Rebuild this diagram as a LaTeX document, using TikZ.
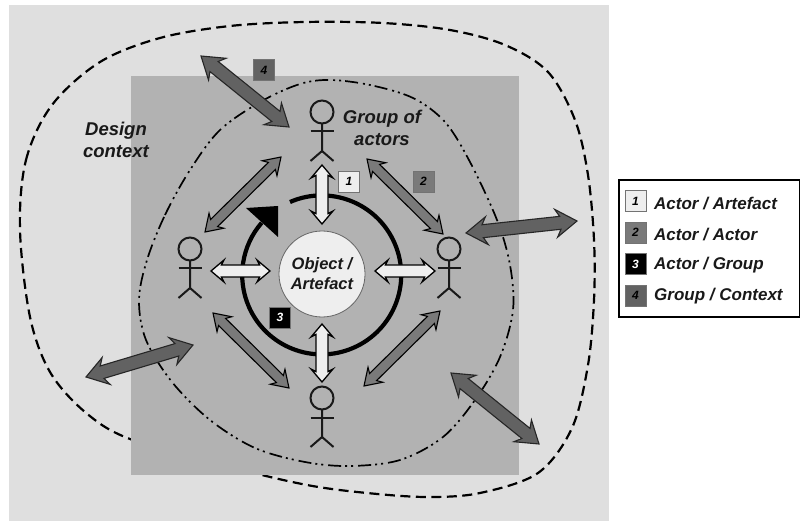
\documentclass[tikz,border=0pt]{standalone}
\usepackage{fontspec}
\setmainfont{Liberation Sans}
\usetikzlibrary{calc}
\definecolor{bgout}{HTML}{DFDFDF}
\definecolor{bgin}{HTML}{B2B2B2}
\definecolor{lite}{HTML}{EEEEEE}
\definecolor{midg}{HTML}{7A7A7A}
\definecolor{darkg}{HTML}{626262}
\tikzset{
  x=1pt,y=-1pt,
  lbl/.style={font=\bfseries\itshape\fontsize{18.5}{22}\selectfont,align=center,text=black!90,inner sep=0pt},
  objlbl/.style={font=\bfseries\itshape\fontsize{16.5}{20}\selectfont,align=center,text=black!90,inner sep=0pt},
  legtxt/.style={font=\bfseries\itshape\fontsize{17}{20}\selectfont,anchor=west,inner sep=0pt,text=black!90},
  tag/.style={draw=black!55,line width=0.8pt,minimum width=21pt,minimum height=21pt,inner sep=0pt,font=\bfseries\itshape\fontsize{12}{14}\selectfont},
  whitearr/.style={fill=lite,draw=black,line width=1.3pt,line join=miter},
  grayarr/.style={fill=midg,draw=black,line width=1.1pt,line join=miter},
  darkarr/.style={fill=darkg,draw=black!85,line width=1.1pt,line join=miter},
  stick/.style={draw=black!90,line width=2pt},
  outerblob/.style={draw=black,line width=2.2pt,dash pattern=on 10pt off 5.5pt},
  innerblob/.style={draw=black,line width=1.7pt,dash pattern=on 13pt off 5pt on 2pt off 4pt on 2pt off 4pt}
}
\newcommand{\bigarrow}[8]{%
  \pgfmathsetmacro\Lg{veclen(#3-#1,#4-#2)}%
  \pgfmathsetmacro\Ux{(#3-#1)/\Lg}%
  \pgfmathsetmacro\Uy{(#4-#2)/\Lg}%
  \pgfmathsetmacro\Rl{\Lg-#6}%
  \draw[#8]
   ({#1},{#2})
   -- ({#1+#6*\Ux-#7*\Uy},{#2+#6*\Uy+#7*\Ux})
   -- ({#1+#6*0.8*\Ux-#5*\Uy},{#2+#6*0.8*\Uy+#5*\Ux})
   -- ({#1+(\Lg-#6*0.8)*\Ux-#5*\Uy},{#2+(\Lg-#6*0.8)*\Uy+#5*\Ux})
   -- ({#1+\Rl*\Ux-#7*\Uy},{#2+\Rl*\Uy+#7*\Ux})
   -- ({#3},{#4})
   -- ({#1+\Rl*\Ux+#7*\Uy},{#2+\Rl*\Uy-#7*\Ux})
   -- ({#1+(\Lg-#6*0.8)*\Ux+#5*\Uy},{#2+(\Lg-#6*0.8)*\Uy-#5*\Ux})
   -- ({#1+#6*0.8*\Ux+#5*\Uy},{#2+#6*0.8*\Uy-#5*\Ux})
   -- ({#1+#6*\Ux+#7*\Uy},{#2+#6*\Uy-#7*\Ux})
   -- cycle;%
}
\newcommand{\wharrow}[4]{\bigarrow{#1}{#2}{#3}{#4}{6}{13}{11}{whitearr}}
\newcommand{\grarrow}[4]{\bigarrow{#1}{#2}{#3}{#4}{5}{16}{10.5}{grayarr}}
\newcommand{\dkarrow}[4]{\bigarrow{#1}{#2}{#3}{#4}{6.5}{21}{14}{darkarr}}
\newcommand{\actor}[2]{%
  \draw[stick] (#1,#2) circle[radius=11.5pt];
  \draw[stick] (#1,#2+11.5) -- (#1,#2+39) -- (#1-11.5,#2+49);
  \draw[stick] (#1,#2+39) -- (#1+11.5,#2+49);
  \draw[stick] (#1-11.5,#2+19.5) -- (#1+11.5,#2+19.5);
}
\begin{document}
\begin{tikzpicture}
\useasboundingbox (0,0) rectangle (800,521);
\fill[white] (0,0) rectangle (800,521);
\fill[bgout] (9,5) rectangle (609,521);
% context boundary (passes behind the inner square)
\draw[outerblob] plot[smooth cycle,tension=0.55] coordinates {
 (20,230) (26,160) (52,105) (100,62) (160,38) (230,26) (305,22) (383,23) (450,30) (505,45) (548,72) (575,120) (588,175) (594,240) (594,300) (588,365) (572,428) (538,473) (480,493) (427,497) (367,493) (307,485) (230,467) (130,439) (85,412) (50,372) (30,317)};
\fill[bgin] (131,76) rectangle (519,475);
% group boundary
\draw[innerblob] plot[smooth cycle,tension=0.55] coordinates {
 (147,260) (165,215) (190,170) (220,130) (262,101) (300,84) (330,80) (370,85) (413,98) (445,122) (470,162) (497,220) (510,265) (513,310) (500,357) (475,400) (443,437) (400,460) (350,466) (305,462) (255,448) (210,420) (172,382) (146,340) (139,300)};
% ring
\coordinate (ringstart) at (290,202);
\draw[line width=4.2pt,draw=black] (ringstart) arc[start angle=113.5,end angle=-221,radius=79.5pt];
\fill[black] (246,208) -- (278,206) -- (278,237) -- cycle;
% object
\node[circle,draw=black!60,fill=lite,line width=0.8pt,minimum size=86pt,inner sep=0pt] (obj) at (322,274) {};
\node[objlbl] (objt) at (322,274) {Object /\\Artefact};
% actors
\actor{322}{112}
\actor{190}{249}
\actor{449}{249}
\actor{322}{398}
% arrows
\wharrow{322}{165}{322}{224}
\wharrow{322}{324}{322}{382}
\wharrow{211}{271}{270}{271}
\wharrow{375}{271}{435}{271}
\grarrow{205}{232}{281}{157}
\grarrow{367}{159}{443}{234}
\grarrow{213}{313}{289}{388}
\grarrow{364}{386}{440}{311}
\dkarrow{201}{56}{289}{127}
\dkarrow{466}{233}{577}{221}
\dkarrow{86}{377}{193}{345}
\dkarrow{451}{373}{539}{444}
% tags
\node[tag,fill=lite] (t1) at (349,181.5) {1};
\node[tag,fill=midg] (t2) at (423.5,181.5) {2};
\node[tag,fill=black,text=white] (t3) at (280,317.5) {3};
\node[tag,fill=darkg] (t4) at (264,70) {4};
% labels
\node[lbl] (grp) at (382,128) {Group of\\actors};
\node[lbl] (ctx) at (116,139.5) {Design\\context};
% legend
\draw[black,line width=1.5pt,fill=white] (619,180) rectangle (799.5,317);
\node[tag,fill=lite] (l1) at (635.5,201) {1};
\node[tag,fill=midg] (l2) at (635.5,232.5) {2};
\node[tag,fill=black,text=white] (l3) at (635.5,264) {3};
\node[tag,fill=darkg] (l4) at (635.5,295.5) {4};
\node[legtxt] (lt1) at (654,204) {Actor / Artefact};
\node[legtxt] (lt2) at (654,234.5) {Actor / Actor};
\node[legtxt] (lt3) at (654,265) {Actor / Group};
\node[legtxt] (lt4) at (654,296) {Group / Context};
\end{tikzpicture}
\end{document}
